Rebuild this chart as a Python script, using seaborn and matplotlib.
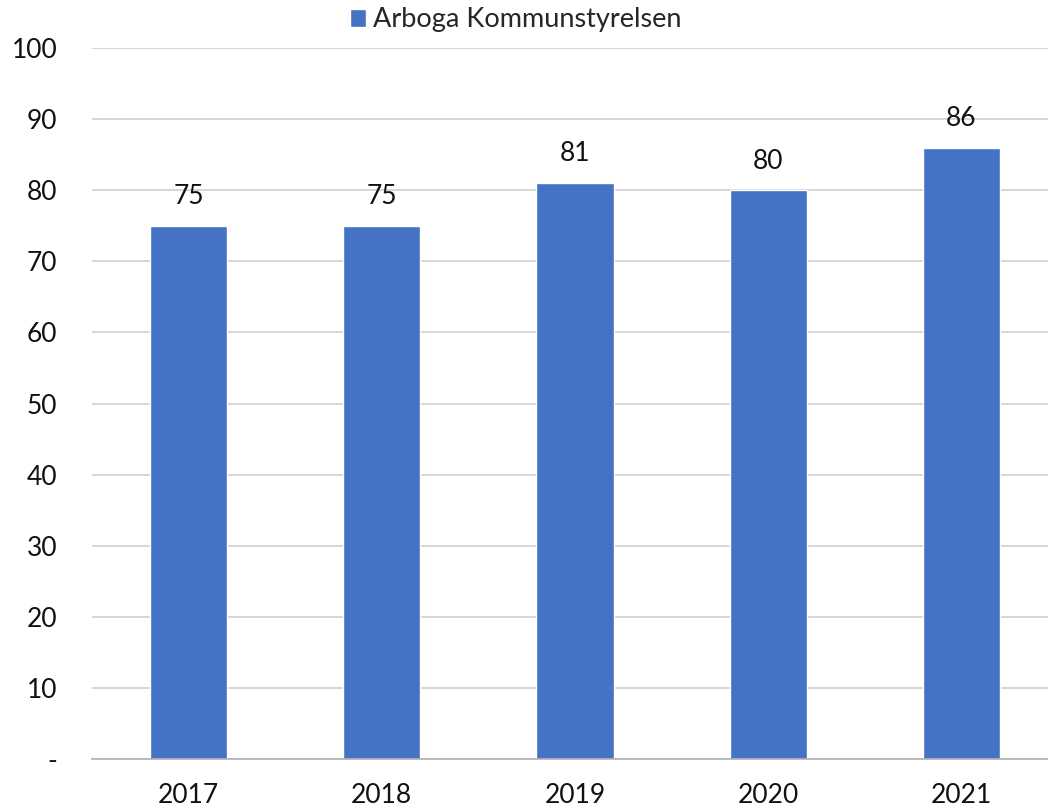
import numpy as np
import pandas as pd
import seaborn as sns
import matplotlib.pyplot as plt
from matplotlib.ticker import FixedLocator

years = ["2017", "2018", "2019", "2020", "2021"]
values = [75, 75, 81, 80, 86]
series_name = "Arboga Kommunstyrelsen"
y_ticks = [0, 10, 20, 30, 40, 50, 60, 70, 80, 90, 100]
y_tick_labels = ["-", "10", "20", "30", "40", "50", "60", "70", "80", "90", "100"]

sns.set_style("white")
plt.rcParams["font.family"] = ["Lato", "DejaVu Sans"]

df = pd.DataFrame({"year": years, "value": values})

W, H = 1048, 809
fig = plt.figure(figsize=(W / 100, H / 100), dpi=100)
# axes run slightly past the right edge, as in the reference
ax = fig.add_axes([92 / W, 1 - 759 / H, (1058 - 92) / W, (759 - 48) / H])

sns.barplot(data=df, x="year", y="value", color="#4472C4", width=0.4,
            saturation=1, label=series_name, ax=ax, zorder=3)

ax.set_ylim(0, 100)
ax.set_xlim(-0.5, len(years) - 0.5)
ax.set_yticks(y_ticks)
ax.set_yticklabels(y_tick_labels)
ax.yaxis.grid(True, color="#d0d0d0", linewidth=1.2, zorder=0)
ax.set_xlabel("")
ax.set_ylabel("")

for s in ["top", "right", "left"]:
    ax.spines[s].set_visible(False)
ax.spines["bottom"].set_color("#b0b0b0")
ax.spines["bottom"].set_linewidth(1.2)
ax.spines["bottom"].set_zorder(4)

fs = 19
ax.tick_params(axis="y", length=0, pad=25, labelsize=fs, labelcolor="#111111")
ax.tick_params(axis="x", which="major", length=0, pad=17, labelsize=fs, labelcolor="#111111")
ax.xaxis.set_minor_locator(FixedLocator(np.arange(-0.5, len(years), 1.0)))
ax.tick_params(axis="x", which="minor", length=10, width=1.2, color="#b0b0b0", direction="out")

ax.bar_label(ax.containers[0], fmt="%d", padding=12, fontsize=fs, color="#111111")

ax.legend(loc="center", bbox_to_anchor=(516 / W, 1 - 20 / H), bbox_transform=fig.transFigure,
          frameon=False, fontsize=19.5, handlelength=0.6, handleheight=0.6,
          handletextpad=0.25, borderaxespad=0)

fig.savefig("out.png", dpi=100)
